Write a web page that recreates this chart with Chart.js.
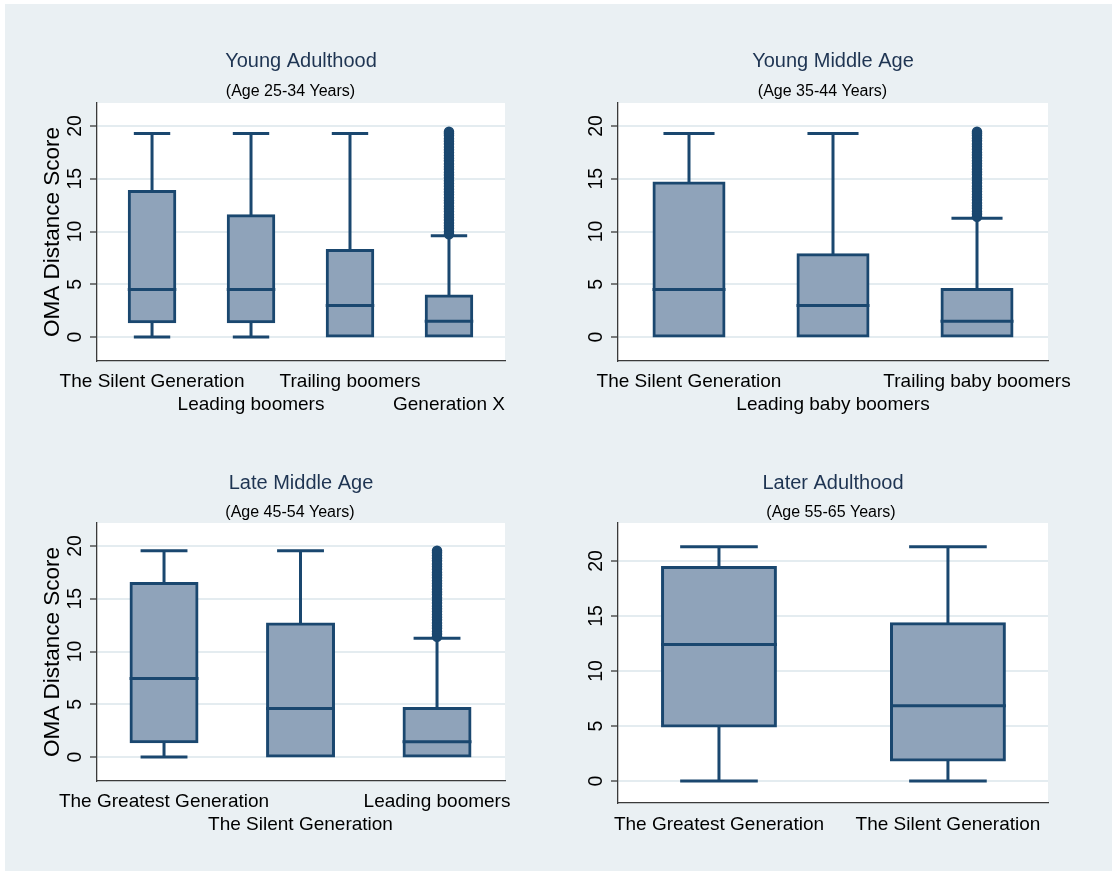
<!DOCTYPE html>
<html>
<head>
<meta charset="utf-8">
<title>OMA Distance Score by Generation and Life Stage</title>
<script src="https://cdn.jsdelivr.net/npm/chart.js@4.4.1/dist/chart.umd.min.js"></script>
<style>
  html, body { margin: 0; padding: 0; background: #ffffff; }
  #page { position: relative; width: 1112px; height: 875px; overflow: hidden; background: #ffffff; }
  #bg { position: absolute; left: 5px; top: 4px; width: 1107px; height: 867px; background: #EAF0F3; }
  canvas { position: absolute; }
</style>
</head>
<body>
<div id="page">
  <div id="bg"></div>
  <canvas id="p1" width="556" height="437" style="left:0px;top:0px"></canvas>
  <canvas id="p2" width="556" height="437" style="left:556px;top:0px"></canvas>
  <canvas id="p3" width="556" height="455" style="left:0px;top:420px"></canvas>
  <canvas id="p4" width="556" height="455" style="left:556px;top:420px"></canvas>
</div>
<script>
// ---- shared axis values ----
const yTickValues = [0, 5, 10, 15, 20];
const yTickLabels = ['0', '5', '10', '15', '20'];
const yAxisTitle = 'OMA Distance Score';

// ---- Young Adulthood (Age 25-34) ----
const youngAdultCats = ['The Silent Generation', 'Leading boomers', 'Trailing boomers', 'Generation X'];
const youngAdultLow = [0, 0, 0, 0];
const youngAdultQ1 = [1.45, 1.45, 0, 0];
const youngAdultMedian = [4.5, 4.5, 3.0, 1.5];
const youngAdultQ3 = [13.8, 11.5, 8.2, 3.9];
const youngAdultHigh = [19.3, 19.3, 19.3, 9.6];
const youngAdultOutlierCat = 'Generation X';
const youngAdultOutliers = [9.75, 10.0, 10.3, 10.55, 10.8, 11.1, 11.35, 11.6, 11.9, 12.15, 12.4, 12.7,
  12.95, 13.2, 13.5, 13.75, 14.0, 14.3, 14.55, 14.8, 15.1, 15.35, 15.6, 15.9, 16.15, 16.4, 16.7,
  16.95, 17.2, 17.5, 17.75, 18.0, 18.3, 18.55, 18.8, 19.1, 19.3, 19.45];

// ---- Young Middle Age (Age 35-44) ----
const youngMidCats = ['The Silent Generation', 'Leading baby boomers', 'Trailing baby boomers'];
const youngMidLow = [0, 0, 0];
const youngMidQ1 = [0, 0, 0];
const youngMidMedian = [4.5, 3.0, 1.5];
const youngMidQ3 = [14.6, 7.8, 4.5];
const youngMidHigh = [19.3, 19.3, 11.25];
const youngMidOutlierCat = 'Trailing baby boomers';
const youngMidOutliers = [11.4, 11.65, 11.9, 12.2, 12.45, 12.7, 13.0, 13.25, 13.5, 13.8, 14.05, 14.3,
  14.6, 14.85, 15.1, 15.4, 15.65, 15.9, 16.2, 16.45, 16.7, 17.0, 17.25, 17.5, 17.8, 18.05, 18.3,
  18.6, 18.85, 19.1, 19.3, 19.45];

// ---- Late Middle Age (Age 45-54) ----
const lateMidCats = ['The Greatest Generation', 'The Silent Generation', 'Leading boomers'];
const lateMidLow = [0, 0, 0];
const lateMidQ1 = [1.45, 0, 0];
const lateMidMedian = [7.45, 4.6, 1.45];
const lateMidQ3 = [16.45, 12.6, 4.6];
const lateMidHigh = [19.55, 19.55, 11.25];
const lateMidOutlierCat = 'Leading boomers';
const lateMidOutliers = [11.4, 11.65, 11.9, 12.2, 12.45, 12.7, 13.0, 13.25, 13.5, 13.8, 14.05, 14.3,
  14.6, 14.85, 15.1, 15.4, 15.65, 15.9, 16.2, 16.45, 16.7, 17.0, 17.25, 17.5, 17.8, 18.05, 18.3,
  18.6, 18.85, 19.1, 19.35, 19.55];

// ---- Later Adulthood (Age 55-65) ----
const laterCats = ['The Greatest Generation', 'The Silent Generation'];
const laterLow = [0, 0];
const laterQ1 = [5.0, 1.9];
const laterMedian = [12.4, 6.85];
const laterQ3 = [19.4, 14.3];
const laterHigh = [21.3, 21.3];

// ---- styling ----
const NAVY = '#1A476F';
const BOX_FILL = '#8FA3BA';
const GRID = '#E4ECF0';
const AXIS = '#3a3a3a';
const STROKE = 3;
const HALF = STROKE / 2;
const FONT = '"Liberation Sans", Arial, Helvetica, sans-serif';
Chart.defaults.font.family = FONT;
Chart.defaults.color = '#000';

// white plot region
const plotBackground = {
  id: 'plotBackground',
  beforeDraw(chart) {
    const { ctx, chartArea: a } = chart;
    ctx.save();
    ctx.fillStyle = '#ffffff';
    ctx.fillRect(a.left, a.top, a.right - a.left, a.bottom - a.top);
    ctx.restore();
  }
};

// whiskers, caps and median lines, positioned from the bar elements and the y scale
const boxWhiskers = {
  id: 'boxWhiskers',
  beforeDatasetsDraw(chart, args, o) {
    const { ctx } = chart;
    const y = chart.scales.y;
    const bars = chart.getDatasetMeta(0).data;
    ctx.save();
    ctx.strokeStyle = NAVY;
    ctx.lineWidth = STROKE;
    ctx.lineCap = 'butt';
    const seg = (x1, y1, x2, y2) => { ctx.beginPath(); ctx.moveTo(x1, y1); ctx.lineTo(x2, y2); ctx.stroke(); };
    bars.forEach((bar, i) => {
      const cx = bar.x;
      const cap = (bar.width + STROKE) * o.capRatio / 2;
      if (o.high[i] > o.q3[i]) {
        const yh = y.getPixelForValue(o.high[i]);
        seg(cx, y.getPixelForValue(o.q3[i]), cx, yh);
        seg(cx - cap, yh, cx + cap, yh);
      }
      if (o.low[i] < o.q1[i]) {
        const yl = y.getPixelForValue(o.low[i]);
        seg(cx, y.getPixelForValue(o.q1[i]), cx, yl);
        seg(cx - cap, yl, cx + cap, yl);
      }
    });
    ctx.restore();
  },
  afterDatasetsDraw(chart, args, o) {
    const { ctx } = chart;
    const y = chart.scales.y;
    const bars = chart.getDatasetMeta(0).data;
    ctx.save();
    ctx.strokeStyle = NAVY;
    ctx.lineWidth = STROKE;
    bars.forEach((bar, i) => {
      const ym = y.getPixelForValue(o.median[i]);
      ctx.beginPath();
      ctx.moveTo(bar.x - bar.width / 2 - HALF, ym);
      ctx.lineTo(bar.x + bar.width / 2 + HALF, ym);
      ctx.stroke();
    });
    ctx.restore();
  }
};

// panel titles, vertical y tick labels and y axis title
const panelText = {
  id: 'panelText',
  afterDraw(chart, args, o) {
    const { ctx, chartArea: a } = chart;
    const y = chart.scales.y;
    const cx = (a.left + a.right) / 2;
    ctx.save();
    ctx.textAlign = 'center';
    ctx.textBaseline = 'alphabetic';
    ctx.fillStyle = '#1E3452';
    ctx.font = '20px ' + FONT;
    ctx.fillText(o.title, cx, o.titleY);
    ctx.fillStyle = '#000';
    ctx.font = '16px ' + FONT;
    ctx.fillText(o.subtitle, cx + o.subtitleShift, o.subtitleY);

    ctx.font = '19.5px ' + FONT;
    ctx.textBaseline = 'middle';
    yTickValues.forEach((v, i) => {
      ctx.save();
      ctx.translate(a.left - 21, y.getPixelForValue(v));
      ctx.rotate(-Math.PI / 2);
      ctx.fillText(yTickLabels[i], 0, 0);
      ctx.restore();
    });
    if (o.yTitle) {
      ctx.font = '22.5px ' + FONT;
      ctx.save();
      ctx.translate(a.left - 44, (a.top + a.bottom) / 2);
      ctx.rotate(-Math.PI / 2);
      ctx.fillText(o.yTitle, 0, 0);
      ctx.restore();
    }
    ctx.restore();
  }
};

function buildPanel(id, p) {
  const boxes = p.cats.map((c, i) => ({ x: i + 1, y: [p.q1[i], p.q3[i]] }));
  const datasets = [{
    type: 'bar',
    data: boxes,
    backgroundColor: BOX_FILL,
    borderColor: NAVY,
    borderWidth: STROKE,
    borderSkipped: false,
    inflateAmount: HALF,
    barPercentage: p.barPct,
    categoryPercentage: 1
  }];
  if (p.outliers) {
    const xi = p.cats.indexOf(p.outlierCat) + 1;
    datasets.push({
      type: 'scatter',
      data: p.outliers.map(v => ({ x: xi, y: v })),
      pointRadius: 4.5,
      pointBorderWidth: 1.5,
      pointBackgroundColor: NAVY,
      pointBorderColor: NAVY,
      showLine: false
    });
  }
  return new Chart(document.getElementById(id), {
    type: 'bar',
    data: { datasets },
    plugins: [plotBackground, boxWhiskers, panelText],
    options: {
      responsive: false,
      animation: false,
      layout: { padding: { top: p.top, left: 0, right: p.right, bottom: 0 } },
      plugins: {
        legend: { display: false },
        tooltip: { enabled: false },
        boxWhiskers: { low: p.low, q1: p.q1, median: p.median, q3: p.q3, high: p.high, capRatio: p.capRatio },
        panelText: {
          title: p.title, subtitle: p.subtitle, titleY: p.titleY, subtitleY: p.subtitleY,
          subtitleShift: p.subtitleShift, yTitle: p.yTitle
        }
      },
      scales: {
        x: {
          type: 'linear',
          offset: false,
          min: p.xMin, max: p.xMax,
          afterBuildTicks: s => { s.ticks = p.cats.map((c, i) => ({ value: i + 1 })); },
          afterFit: s => { s.height = p.xHeight; },
          grid: { display: false, drawTicks: false, offset: false },
          border: { display: true, color: AXIS, width: 1.3 },
          ticks: {
            autoSkip: false, maxRotation: 0, minRotation: 0, padding: p.labelPad,
            color: '#000', font: { size: 19, lineHeight: 1.22 },
            callback: v => {
              const i = Math.round(v) - 1;
              const c = p.cats[i];
              return (p.stagger && i % 2 === 1) ? ['', c] : c;
            }
          }
        },
        y: {
          min: p.yMin, max: p.yMax,
          afterBuildTicks: s => { s.ticks = yTickValues.map(v => ({ value: v })); },
          afterFit: s => { s.width = p.yWidth; },
          ticks: { display: false },
          grid: { color: GRID, lineWidth: 2, drawTicks: true, tickLength: 7, tickColor: AXIS, tickWidth: 1.3 },
          border: { display: true, color: AXIS, width: 1.3 }
        }
      }
    }
  });
}

buildPanel('p1', {
  cats: youngAdultCats, low: youngAdultLow, q1: youngAdultQ1, median: youngAdultMedian,
  q3: youngAdultQ3, high: youngAdultHigh, outliers: youngAdultOutliers, outlierCat: youngAdultOutlierCat,
  title: 'Young Adulthood', subtitle: '(Age 25-34 Years)', yTitle: yAxisTitle,
  titleY: 66.5, subtitleY: 95.5, subtitleShift: -10.5,
  top: 103, right: 51, yWidth: 97, xHeight: 76, xMin: 0.444, xMax: 4.566,
  yMin: -2.27, yMax: 22.18, barPct: 0.46, capRatio: 0.75, stagger: true, labelPad: 9
});

buildPanel('p2', {
  cats: youngMidCats, low: youngMidLow, q1: youngMidQ1, median: youngMidMedian,
  q3: youngMidQ3, high: youngMidHigh, outliers: youngMidOutliers, outlierCat: youngMidOutlierCat,
  title: 'Young Middle Age', subtitle: '(Age 35-44 Years)', yTitle: null,
  titleY: 66.5, subtitleY: 95.5, subtitleShift: -10.5,
  top: 103, right: 64, yWidth: 62, xHeight: 76, xMin: 0.507, xMax: 3.493,
  yMin: -2.27, yMax: 22.18, barPct: 0.486, capRatio: 0.7, stagger: true, labelPad: 9
});

buildPanel('p3', {
  cats: lateMidCats, low: lateMidLow, q1: lateMidQ1, median: lateMidMedian,
  q3: lateMidQ3, high: lateMidHigh, outliers: lateMidOutliers, outlierCat: lateMidOutlierCat,
  title: 'Late Middle Age', subtitle: '(Age 45-54 Years)', yTitle: yAxisTitle,
  titleY: 69, subtitleY: 96.5, subtitleShift: -11,
  top: 103, right: 51, yWidth: 97, xHeight: 94, xMin: 0.509, xMax: 3.498,
  yMin: -2.27, yMax: 22.18, barPct: 0.483, capRatio: 0.68, stagger: true, labelPad: 9
});

buildPanel('p4', {
  cats: laterCats, low: laterLow, q1: laterQ1, median: laterMedian,
  q3: laterQ3, high: laterHigh, outliers: null, outlierCat: null,
  title: 'Later Adulthood', subtitle: '(Age 55-65 Years)', yTitle: null,
  titleY: 69, subtitleY: 96.5, subtitleShift: -2,
  top: 103, right: 64, yWidth: 62, xHeight: 72, xMin: 0.559, xMax: 2.437,
  yMin: -2, yMax: 23.45, barPct: 0.493, capRatio: 0.67, stagger: false, labelPad: 10
});
</script>
</body>
</html>
